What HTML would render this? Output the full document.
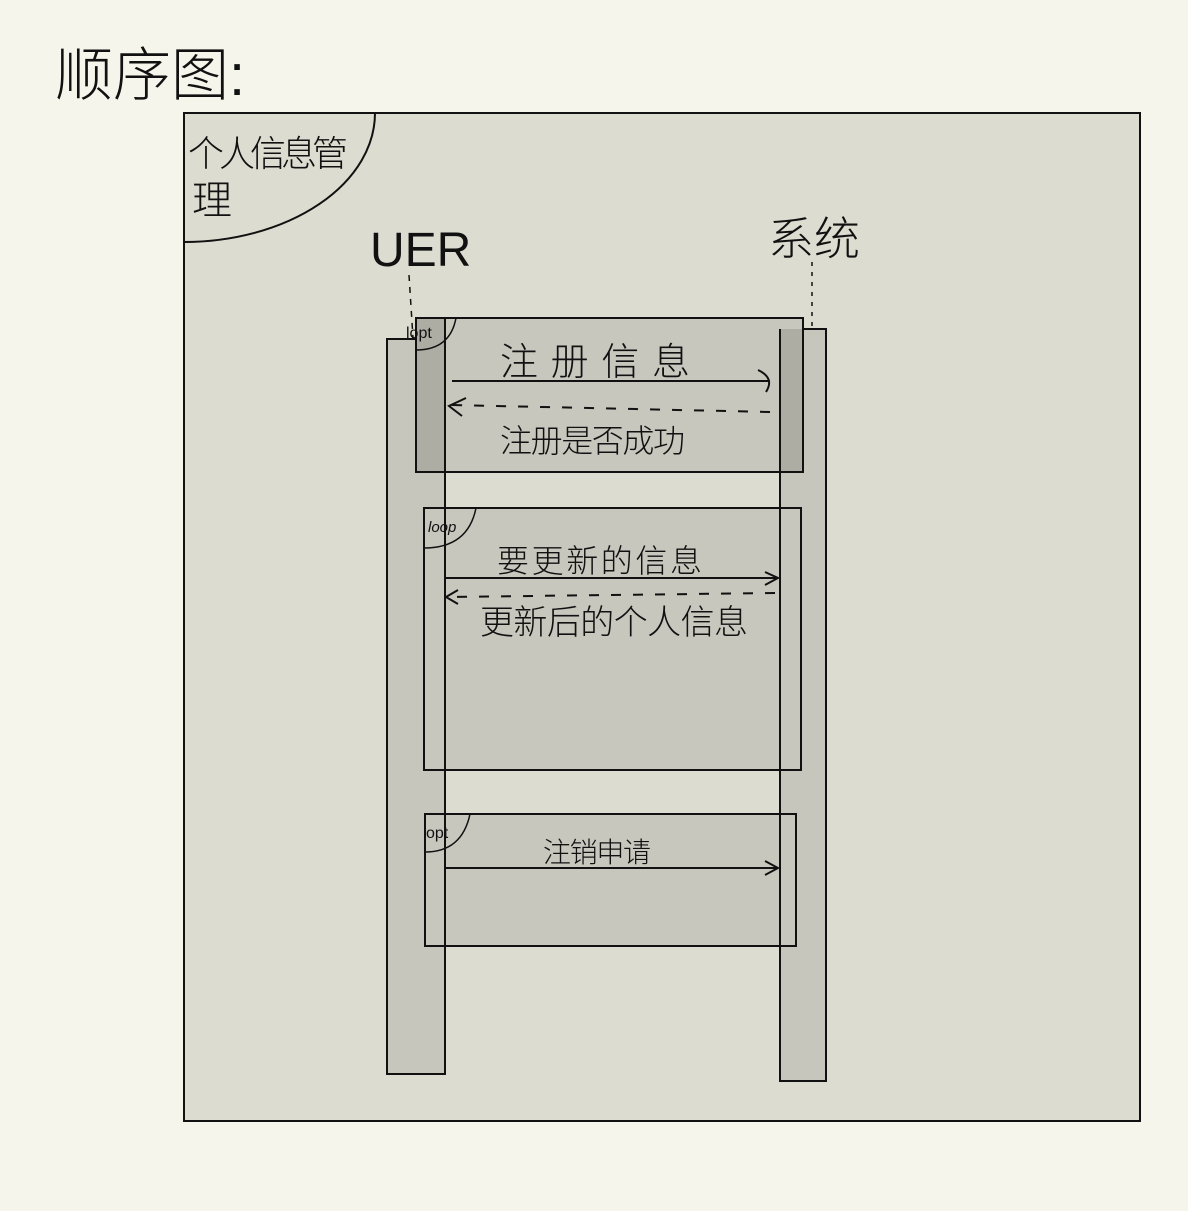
<!DOCTYPE html>
<html><head><meta charset="utf-8"><style>
html,body{margin:0;padding:0;background:#f5f5eb;}
svg{display:block}
text{font-family:"Liberation Sans","Noto Sans CJK SC",sans-serif;fill:#111;}
</style></head><body>
<svg width="1188" height="1211" viewBox="0 0 1188 1211" xmlns="http://www.w3.org/2000/svg">
<rect width="1188" height="1211" fill="#f5f5eb"/>
<text x="55" y="95" font-size="58" font-weight="300">顺序图:</text>
<rect x="184" y="113" width="956" height="1008" fill="#dcdcd0" stroke="#111" stroke-width="2"/>
<path d="M375,113 A191,129 0 0 1 184,242" fill="none" stroke="#111" stroke-width="2"/>
<text x="188" y="166" font-size="36" font-weight="300" textLength="160">个人信息管</text>
<text x="192" y="214" font-size="40" font-weight="300">理</text>
<text x="370" y="266" font-size="48" font-weight="300">UER</text>
<text x="768" y="255" font-size="46" font-weight="300">系统</text>
<line x1="409" y1="275" x2="413" y2="338" stroke="#111" stroke-width="1.5" stroke-dasharray="6,6"/>
<line x1="812" y1="262" x2="812" y2="329" stroke="#111" stroke-width="1.5" stroke-dasharray="4,6"/>
<rect x="387" y="339" width="58" height="735" fill="#c6c6bd" stroke="#111" stroke-width="2"/>
<rect x="780" y="329" width="46" height="752" fill="#c6c6bd" stroke="#111" stroke-width="2"/>
<rect x="416" y="318" width="387" height="154" fill="#c7c7be" stroke="#111" stroke-width="2"/>
<rect x="416" y="318" width="29" height="154" fill="#adada4"/>
<rect x="780" y="329" width="23" height="143" fill="#adada4"/>
<rect x="416" y="318" width="387" height="154" fill="none" stroke="#111" stroke-width="2"/>
<line x1="445" y1="318" x2="445" y2="472" stroke="#111" stroke-width="2"/>
<line x1="780" y1="329" x2="780" y2="472" stroke="#111" stroke-width="2"/>
<path d="M416,350 Q450,350 456,318" fill="none" stroke="#111" stroke-width="1.5"/>
<text x="406" y="338" font-size="16">lopt</text>
<text x="500" y="375" font-size="38" font-weight="300" textLength="190">注册信息</text>
<line x1="452" y1="381" x2="770" y2="381" stroke="#111" stroke-width="2"/>
<path d="M758,370 Q775,378 766,392" fill="none" stroke="#111" stroke-width="2"/>
<line x1="770" y1="412" x2="452" y2="405" stroke="#111" stroke-width="2" stroke-dasharray="10,12"/>
<path d="M466,398 L449,406 L462,416" fill="none" stroke="#111" stroke-width="2"/>
<text x="500" y="452" font-size="32" font-weight="300" textLength="185">注册是否成功</text>
<rect x="424" y="508" width="377" height="262" fill="#c7c7be" stroke="#111" stroke-width="2"/>
<line x1="445" y1="508" x2="445" y2="770" stroke="#111" stroke-width="2"/>
<line x1="780" y1="508" x2="780" y2="770" stroke="#111" stroke-width="2"/>
<path d="M424,548 Q468,548 476,508" fill="none" stroke="#111" stroke-width="1.5"/>
<text x="428" y="532" font-size="15" font-style="italic">loop</text>
<text x="497" y="572" font-size="32" font-weight="300" textLength="205">要更新的信息</text>
<line x1="446" y1="578" x2="777" y2="578" stroke="#111" stroke-width="2"/>
<path d="M765,572 L778,578 L765,585" fill="none" stroke="#111" stroke-width="2"/>
<line x1="775" y1="593" x2="447" y2="597" stroke="#111" stroke-width="2" stroke-dasharray="10,12"/>
<path d="M458,590 L446,597 L458,604" fill="none" stroke="#111" stroke-width="2"/>
<text x="480" y="634" font-size="34" font-weight="300" textLength="268">更新后的个人信息</text>
<rect x="425" y="814" width="371" height="132" fill="#c7c7be" stroke="#111" stroke-width="2"/>
<line x1="445" y1="814" x2="445" y2="946" stroke="#111" stroke-width="2"/>
<line x1="780" y1="814" x2="780" y2="946" stroke="#111" stroke-width="2"/>
<path d="M425,852 Q462,852 470,814" fill="none" stroke="#111" stroke-width="1.5"/>
<text x="426" y="838" font-size="16">opt</text>
<text x="543" y="862" font-size="28" font-weight="300" textLength="108">注销申请</text>
<line x1="446" y1="868" x2="777" y2="868" stroke="#111" stroke-width="2"/>
<path d="M765,861 L778,868 L765,875" fill="none" stroke="#111" stroke-width="2"/>
</svg>
</body></html>
